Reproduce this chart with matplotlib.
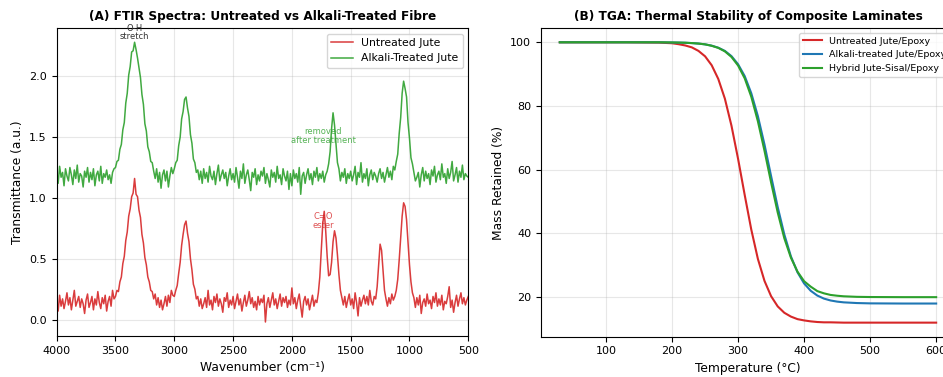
import matplotlib
matplotlib.use('Agg')
import matplotlib.pyplot as plt
import numpy as np

wavenumber = np.arange(4000, 499, -12.5)

untreated_ftir = [
    # 4000 -> 3762.5
    0.14, 0.07, 0.20, 0.11, 0.17, 0.09, 0.15, 0.22, 0.12, 0.18, 0.08, 0.16, 0.24, 0.11, 0.15, 0.19, 0.10, 0.17, 0.13, 0.05,
    # 3750 -> 3512.5
    0.16, 0.21, 0.10, 0.14, 0.19, 0.08, 0.17, 0.12, 0.23, 0.14, 0.09, 0.18, 0.13, 0.20, 0.07, 0.15, 0.19, 0.11, 0.24, 0.17,
    # 3500 -> 3262.5
    0.19, 0.24, 0.23, 0.31, 0.35, 0.46, 0.52, 0.65, 0.72, 0.85, 0.91, 1.01, 1.04, 1.16, 1.03, 1.01, 0.90, 0.84, 0.70, 0.63,
    # 3250 -> 3012.5
    0.51, 0.45, 0.35, 0.31, 0.24, 0.23, 0.17, 0.21, 0.12, 0.18, 0.10, 0.16, 0.08, 0.13, 0.19, 0.11, 0.20, 0.14, 0.24, 0.20,
    # 3000 -> 2762.5
    0.19, 0.24, 0.28, 0.38, 0.47, 0.61, 0.70, 0.78, 0.81, 0.71, 0.64, 0.50, 0.41, 0.29, 0.25, 0.17, 0.19, 0.11, 0.17, 0.09,
    # 2750 -> 2512.5
    0.13, 0.18, 0.10, 0.24, 0.12, 0.16, 0.08, 0.19, 0.14, 0.21, 0.11, 0.17, 0.13, 0.06, 0.18, 0.15, 0.22, 0.10, 0.16, 0.12,
    # 2500 -> 2262.5
    0.19, 0.09, 0.15, 0.21, 0.12, 0.17, 0.07, 0.14, 0.20, 0.11, 0.16, 0.23, 0.13, 0.18, 0.10, 0.15, 0.08, 0.19, 0.12, 0.17,
    # 2250 -> 2012.5
    0.14, 0.20, -0.02, 0.13, 0.18, 0.10, 0.16, 0.22, 0.12, 0.17, 0.09, 0.15, 0.21, 0.11, 0.18, 0.14, 0.19, 0.10, 0.16, 0.12,
    # 2000 -> 1762.5
    0.26, 0.13, 0.18, 0.09, 0.16, 0.21, 0.11, 0.02, 0.15, 0.19, 0.12, 0.17, 0.08, 0.14, 0.20, 0.11, 0.16, 0.14, 0.22, 0.35,
    # 1750 -> 1512.5
    0.57, 0.79, 0.89, 0.73, 0.52, 0.36, 0.37, 0.47, 0.64, 0.73, 0.67, 0.53, 0.37, 0.24, 0.18, 0.12, 0.19, 0.10, 0.16, 0.21,
    # 1500 -> 1262.5
    0.12, 0.17, 0.09, 0.22, 0.14, 0.03, 0.18, 0.11, 0.16, 0.20, 0.13, 0.19, 0.12, 0.24, 0.15, 0.12, 0.19, 0.17, 0.27, 0.44,
    # 1250 -> 1012.5
    0.62, 0.57, 0.40, 0.24, 0.17, 0.11, 0.18, 0.13, 0.21, 0.16, 0.19, 0.24, 0.33, 0.49, 0.67, 0.85, 0.96, 0.93, 0.82, 0.63,
    # 1000 -> 762.5
    0.45, 0.31, 0.22, 0.18, 0.10, 0.18, 0.12, 0.20, 0.05, 0.14, 0.17, 0.11, 0.21, 0.13, 0.16, 0.09, 0.19, 0.14, 0.22, 0.11,
    # 750 -> 512.5
    0.17, 0.12, 0.20, 0.08, 0.15, 0.13, 0.19, 0.27, 0.10, 0.16, 0.06, 0.14, 0.20, 0.11, 0.17, 0.22, 0.13, 0.18, 0.12, 0.16,
    # 500
    0.19,
]

treated_ftir = [
    1.22, 1.12, 1.26, 1.17, 1.21, 1.10, 1.24, 1.18, 1.14, 1.25, 1.19, 1.11, 1.23, 1.16, 1.27, 1.13, 1.20, 1.18, 1.09, 1.22,
    1.17, 1.25, 1.13, 1.21, 1.15, 1.24, 1.10, 1.19, 1.22, 1.14, 1.26, 1.12, 1.20, 1.17, 1.23, 1.15, 1.19, 1.12, 1.21, 1.24,
    1.25, 1.30, 1.31, 1.40, 1.44, 1.56, 1.62, 1.78, 1.86, 2.01, 2.08, 2.20, 2.21, 2.28, 2.22, 2.15, 2.07, 1.99, 1.85, 1.77,
    1.61, 1.55, 1.42, 1.38, 1.30, 1.29, 1.22, 1.16, 1.24, 1.13, 1.21, 1.08, 1.19, 1.23, 1.14, 1.22, 1.09, 1.18, 1.25, 1.20,
    1.24, 1.29, 1.31, 1.43, 1.50, 1.65, 1.71, 1.81, 1.83, 1.74, 1.67, 1.52, 1.45, 1.32, 1.29, 1.21, 1.23, 1.15, 1.22, 1.12,
    1.24, 1.16, 1.21, 1.13, 1.26, 1.18, 1.15, 1.22, 1.11, 1.20, 1.27, 1.14, 1.19, 1.23, 1.16, 1.21, 1.10, 1.18, 1.24, 1.15,
    1.20, 1.13, 1.25, 1.17, 1.08, 1.22, 1.16, 1.28, 1.12, 1.19, 1.23, 1.15, 1.06, 1.21, 1.17, 1.24, 1.11, 1.19, 1.14, 1.22,
    1.18, 1.25, 1.12, 1.20, 1.15, 1.09, 1.23, 1.17, 1.21, 1.13, 1.26, 1.16, 1.19, 1.11, 1.24, 1.18, 1.14, 1.22, 1.07, 1.20,
    1.10, 1.23, 1.16, 1.20, 1.13, 1.25, 1.03, 1.18, 1.21, 1.12, 1.19, 1.24, 1.15, 1.20, 1.11, 1.22, 1.17, 1.25, 1.14, 1.20,
    1.16, 1.22, 1.13, 1.19, 1.22, 1.28, 1.38, 1.57, 1.70, 1.60, 1.45, 1.29, 1.24, 1.14, 1.21, 1.17, 1.24, 1.12, 1.20, 1.16,
    1.22, 1.14, 1.19, 1.26, 1.11, 1.21, 1.17, 1.29, 1.13, 1.20, 1.16, 1.24, 1.10, 1.19, 1.23, 1.15, 1.21, 1.18, 1.13, 1.20,
    1.24, 1.16, 1.21, 1.13, 1.19, 1.25, 1.17, 1.22, 1.15, 1.26, 1.23, 1.30, 1.36, 1.53, 1.66, 1.86, 1.96, 1.90, 1.83, 1.62,
    1.49, 1.33, 1.28, 1.21, 1.14, 1.17, 1.21, 1.09, 1.19, 1.25, 1.14, 1.22, 1.16, 1.20, 1.11, 1.23, 1.18, 1.26, 1.13, 1.19,
    1.22, 1.15, 1.28, 1.17, 1.20, 1.12, 1.24, 1.16, 1.21, 1.30, 1.14, 1.19, 1.25, 1.13, 1.22, 1.17, 1.27, 1.15, 1.20, 1.18,
    1.17,
]

# ---- TGA data ----
temperature = [30, 80, 130, 180, 200, 210, 220, 230, 240, 250, 260, 270, 280, 290,
               300, 310, 320, 330, 340, 350, 360, 370, 380, 390,
               400, 410, 420, 430, 440, 450, 460, 480, 500, 550, 600]

tga_untreated = [100, 100, 100, 99.9, 99.7, 99.4, 99.0, 98.4, 97.3, 95.6, 92.8, 88.5, 82.3, 73.8,
                 63.4, 52.1, 41.2, 32.0, 25.1, 20.3, 17.1, 15.1, 13.9, 13.1,
                 12.7, 12.4, 12.2, 12.1, 12.1, 12.05, 12.0, 12.0, 12.0, 12.0, 12.0]
tga_alkali = [100, 100, 100, 100, 99.94, 99.9, 99.85, 99.75, 99.6, 99.35, 98.95, 98.3, 97.3, 95.65,
              93.1, 89.4, 84.0, 76.8, 67.9, 58.0, 48.3, 39.7, 32.8, 27.8,
              24.3, 22.0, 20.5, 19.55, 18.96, 18.6, 18.37, 18.15, 18.05, 18.0, 18.0]
tga_hybrid = [100, 100, 100, 100, 99.95, 99.91, 99.86, 99.75, 99.6, 99.35, 98.9, 98.25, 97.15, 95.4,
              92.7, 88.7, 82.9, 75.2, 65.95, 56.0, 46.6, 38.5, 32.4, 28.0,
              25.0, 23.3, 21.9, 21.2, 20.7, 20.45, 20.27, 20.1, 20.04, 20.0, 20.0]

fig = plt.figure(figsize=(9.43, 3.77), dpi=100)

# (A) FTIR
ax1 = fig.add_axes([0.0601, 0.1088, 0.4365, 0.8162])
ax1.plot(wavenumber, untreated_ftir, color='tab:red', lw=1.1, alpha=0.9, label='Untreated Jute')
ax1.plot(wavenumber, treated_ftir, color='tab:green', lw=1.1, alpha=0.9, label='Alkali-Treated Jute')
ax1.set_xlim(4000, 500)
ax1.set_title('(A) FTIR Spectra: Untreated vs Alkali-Treated Fibre', fontsize=8.7, fontweight='bold')
ax1.set_xlabel('Wavenumber (cm⁻¹)', fontsize=8.8)
ax1.set_ylabel('Transmittance (a.u.)', fontsize=8.8)
ax1.tick_params(labelsize=8)
ax1.grid(True, alpha=0.3)
ax1.legend(loc='upper right', fontsize=7.8)
ax1.text(3340, 2.36, 'O-H\nstretch', ha='center', va='center', fontsize=6, color='#333333', linespacing=0.9)
ax1.text(1735, 0.81, 'C=O\nester', ha='center', va='center', fontsize=6, color='tab:red', alpha=0.8, linespacing=0.9)
ax1.text(1735, 1.51, 'removed\nafter treatment', ha='center', va='center', fontsize=6, color='tab:green',
         alpha=0.8, linespacing=0.9)

# (B) TGA
ax2 = fig.add_axes([0.5737, 0.107, 0.439, 0.818])
ax2.plot(temperature, tga_untreated, color='tab:red', lw=1.5, label='Untreated Jute/Epoxy')
ax2.plot(temperature, tga_alkali, color='tab:blue', lw=1.5, label='Alkali-treated Jute/Epoxy')
ax2.plot(temperature, tga_hybrid, color='tab:green', lw=1.5, label='Hybrid Jute-Sisal/Epoxy')
ax2.set_title('(B) TGA: Thermal Stability of Composite Laminates', fontsize=8.7, fontweight='bold')
ax2.set_xlabel('Temperature (°C)', fontsize=8.8)
ax2.set_ylabel('Mass Retained (%)', fontsize=8.8)
ax2.tick_params(labelsize=8)
ax2.grid(True, alpha=0.3)
ax2.legend(loc='upper right', fontsize=6.8)

fig.savefig('out.png', dpi=100)
